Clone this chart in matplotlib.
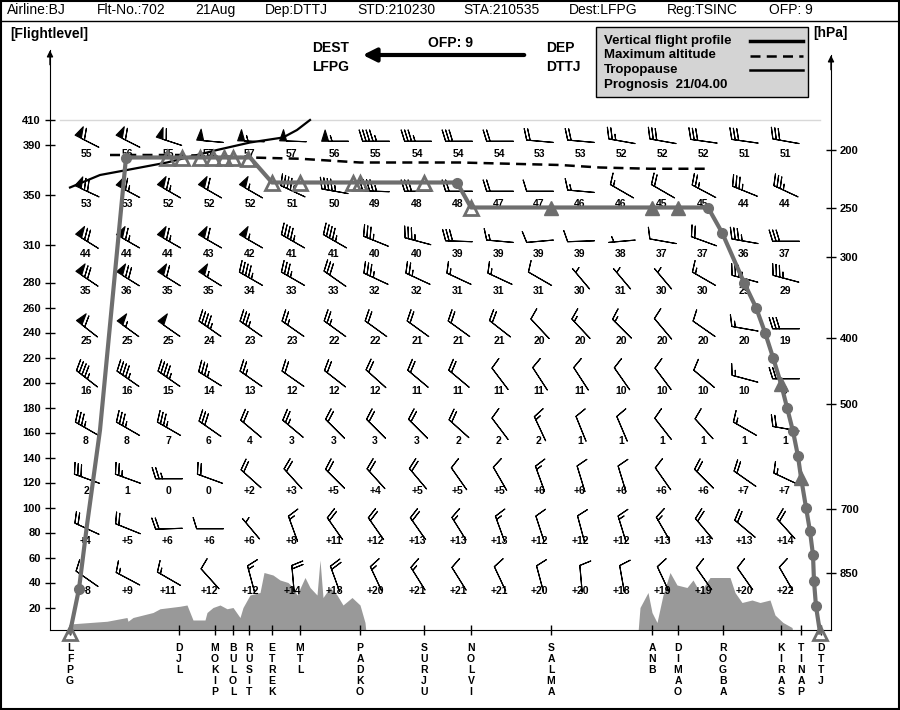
import numpy as np
import matplotlib
matplotlib.use('Agg')
import matplotlib.pyplot as plt
from matplotlib.patches import Rectangle
from matplotlib.lines import Line2D

plt.rcParams['font.family'] = ['Liberation Sans', 'DejaVu Sans']

# ---------------- data ----------------
header = ['Airline:BJ', 'Flt-No.:702', '21Aug', 'Dep:DTTJ', 'STD:210230',
          'STA:210535', 'Dest:LFPG', 'Reg:TSINC', 'OFP: 9']

waypoints = ['LFPG', 'DJL', 'MOKIP', 'BULOL', 'RUSIT', 'ETREK', 'MTL', 'PADKO', 'SURJU',
             'NOLVI', 'SALMA', 'ANB', 'DIMAO', 'ROGBA', 'KIRAS', 'TINAP', 'DTTJ']
wp_dist = [0, 109, 145, 163, 179, 202, 230, 290, 354, 401, 481, 582, 608, 653, 711, 731, 751]

# vertical flight profile (distance from LFPG, flight level)
prof_dist = [0, 9, 17, 30, 56, 180, 202, 387, 401, 638, 652, 674, 686, 695, 703,
             711, 717, 723, 728, 731, 736, 740, 743, 744, 746, 750]
prof_fl = [0, 35, 86, 162, 380, 380, 360, 360, 340, 340, 320, 280, 260, 240, 220,
           199, 180, 161, 141, 124, 100, 81, 62, 41, 21, 0]
circ_dist = [9, 56, 387, 638, 652, 674, 686, 695, 703, 717, 723, 728, 736, 740, 743, 744, 746]
circ_fl = [35, 380, 360, 340, 320, 280, 260, 240, 220, 180, 161, 141, 100, 81, 62, 41, 21]
tri_open_dist = [0, 750, 97, 112, 130, 143, 154, 163, 178, 202, 230, 283, 290, 354, 401]
tri_open_fl = [0, 0, 380, 380, 380, 380, 380, 380, 379, 360, 360, 360, 360, 360, 340]
tri_full_dist = [481, 582, 608, 711, 731]
tri_full_fl = [340, 340, 340, 199, 124]

maxalt_dist = [40, 110, 180, 230, 290, 390, 490, 530, 580, 638]
maxalt_fl = [382, 382, 380, 379, 376, 376, 374, 372, 371, 371]

tropo_dist = [0, 30, 57, 97, 147, 180, 213, 227, 240]
tropo_fl = [356, 366, 370, 376, 386, 392, 396, 402, 410]

terr1_dist = [0, 3, 37, 57, 58, 63, 83, 90, 110, 117, 123, 135, 137, 143, 150, 157, 163,
              170, 173, 180, 190, 194, 203, 210, 218, 223, 227, 235, 240, 247, 250, 253,
              260, 267, 273, 282, 290, 295, 296]
terr1_fl = [0, 7, 9, 12, 9, 12, 16, 19, 21, 22, 10, 10, 16, 20, 22, 19, 20,
            12, 20, 30, 32, 48, 46, 42, 40, 36, 30, 44, 36, 30, 58, 28,
            36, 30, 22, 28, 22, 8, 0]
terr2_dist = [568, 570, 578, 582, 587, 593, 600, 607, 617, 623, 630, 640, 653, 660, 665,
              672, 682, 690, 700, 705, 713, 722, 723]
terr2_fl = [0, 20, 32, 16, 8, 30, 48, 38, 36, 42, 32, 44, 44, 44, 32,
            24, 26, 24, 26, 14, 8, 4, 0]

# wind / temperature grid
grid_dist = [16, 57, 98, 139, 180, 222, 264, 305, 347, 388, 429, 469, 510, 551, 592, 633, 674, 715]
grid_fl = [390, 350, 310, 280, 240, 200, 160, 120, 80, 40]

temp = [
    [-55, -56, -55, -57, -57, -57, -56, -55, -54, -54, -54, -53, -53, -52, -52, -52, -51, -51],
    [-53, -53, -52, -52, -52, -51, -50, -49, -48, -48, -47, -47, -46, -46, -45, -45, -44, -44],
    [-44, -44, -44, -43, -42, -41, -41, -40, -40, -39, -39, -39, -39, -38, -37, -37, -36, -37],
    [-35, -36, -35, -35, -34, -33, -33, -32, -32, -31, -31, -31, -30, -31, -30, -30, -29, -29],
    [-25, -25, -25, -24, -23, -23, -22, -22, -21, -21, -21, -20, -20, -20, -20, -20, -20, -19],
    [-16, -16, -15, -14, -13, -12, -12, -12, -11, -11, -11, -11, -11, -10, -10, -10, -10, -9],
    [-8, -8, -7, -6, -4, -3, -3, -3, -3, -2, -2, -2, -1, -1, -1, -1, -1, -1],
    [-2, -1, 0, 0, 2, 3, 5, 4, 5, 5, 5, 6, 6, 6, 6, 6, 7, 7],
    [4, 5, 6, 6, 6, 8, 11, 12, 13, 13, 13, 12, 12, 12, 13, 13, 13, 14],
    [8, 9, 11, 12, 12, 14, 18, 20, 21, 21, 21, 20, 20, 18, 19, 19, 20, 22],
]
wspd = [
    [60, 60, 60, 50, 55, 50, 55, 45, 35, 30, 20, 20, 20, 25, 30, 30, 30, 30],
    [70, 65, 65, 60, 55, 45, 45, 45, 30, 20, 20, 10, 15, 15, 20, 25, 35, 35],
    [70, 65, 65, 60, 55, 45, 45, 35, 35, 30, 15, 10, 10, 5, 10, 20, 35, 30],
    [70, 70, 60, 55, 45, 35, 30, 35, 25, 15, 15, 10, 5, 5, 5, 15, 35, 35],
    [60, 55, 50, 45, 35, 25, 25, 20, 20, 20, 20, 10, 15, 15, 10, 10, 15, 30],
    [45, 45, 45, 35, 25, 20, 20, 20, 20, 20, 10, 10, 10, 10, 10, 10, 15, 30],
    [35, 35, 35, 30, 20, 25, 20, 20, 20, 20, 10, 15, 10, 10, 10, 10, 15, 20],
    [30, 25, 25, 20, 20, 20, 20, 20, 20, 10, 10, 15, 10, 10, 10, 20, 20, 15],
    [20, 20, 20, 10, 5, 15, 20, 20, 20, 15, 15, 10, 10, 15, 15, 20, 20, 20],
    [10, 15, 15, 10, 15, 20, 20, 15, 15, 10, 10, 10, 10, 10, 10, 10, 10, 10],
]
wdir = [
    [297, 297, 288, 275, 272, 272, 270, 270, 270, 270, 270, 275, 275, 280, 280, 278, 278, 280],
    [295, 298, 300, 300, 300, 295, 280, 272, 270, 270, 270, 270, 275, 300, 300, 298, 292, 295],
    [302, 300, 300, 300, 300, 300, 300, 292, 285, 272, 275, 265, 268, 265, 280, 290, 280, 270],
    [304, 302, 302, 302, 300, 300, 305, 295, 295, 295, 295, 300, 320, 320, 320, 300, 285, 285],
    [308, 306, 305, 305, 305, 305, 306, 306, 306, 306, 308, 317, 317, 315, 320, 305, 280, 270],
    [308, 305, 305, 302, 305, 305, 308, 312, 310, 310, 323, 327, 327, 325, 323, 310, 285, 270],
    [300, 300, 300, 305, 310, 310, 315, 315, 315, 312, 323, 335, 338, 337, 322, 318, 300, 280],
    [290, 290, 270, 290, 312, 318, 315, 318, 320, 325, 330, 340, 343, 343, 325, 315, 305, 295],
    [295, 292, 268, 270, 320, 340, 325, 325, 325, 328, 340, 342, 345, 343, 330, 320, 310, 318],
    [305, 298, 300, 318, 345, 355, 340, 335, 328, 328, 335, 345, 355, 350, 335, 325, 325, 330],
]

fl_ticks = [20, 40, 60, 80, 100, 120, 140, 160, 180, 200, 220, 240, 260, 280, 310, 350, 390, 410]
hpa_ticks = [200, 250, 300, 400, 500, 700, 850]

# ---------------- figure ----------------
W, H = 900, 710


def fx(px):
    return px / W


def fy(py):
    return 1 - py / H


fig = plt.figure(figsize=(W / 100, H / 100), dpi=100)
ax = fig.add_axes([fx(50), fy(630), fx(831) - fx(50), fy(50) - fy(630)])
ax.set_xlim(-20, 761)
ax.set_ylim(2, 466)

prof_col = '#6e6e6e'

# terrain
ax.fill_between(terr1_dist, 0, terr1_fl, color='#999999', lw=0, zorder=1)
ax.fill_between(terr2_dist, 0, terr2_fl, color='#999999', lw=0, zorder=1)

ax.plot([-10, 750], [410, 410], color='#d8d8d8', lw=1, zorder=1)

# wind barbs
gx, gy = np.meshgrid(grid_dist, grid_fl)
spd = np.array(wspd, dtype=float)
rad = np.radians(np.array(wdir, dtype=float))
u = -spd * np.sin(rad)
v = -spd * np.cos(rad)
ax.barbs(gx + 1, gy + 3, u, v, length=6.2, pivot='middle', linewidth=0.8,
         barbcolor='k', flagcolor='k',
         sizes=dict(spacing=0.13, height=0.42, width=0.26), zorder=3)

# temperatures
for i, fl in enumerate(grid_fl):
    for j, d in enumerate(grid_dist):
        t = temp[i][j]
        txt = '+%d' % t if t > 0 else '%d' % abs(t)
        ax.text(d, fl - 7, txt, ha='center', va='center', fontsize=7.5,
                fontweight='bold', zorder=3)

# tropopause, maximum altitude, flight profile
ax.plot(tropo_dist, tropo_fl, color='k', lw=1.6, zorder=4)
ax.plot(maxalt_dist, maxalt_fl, color='k', lw=1.8, ls=(0, (4, 2.5)), zorder=4)
ax.plot(prof_dist, prof_fl, color=prof_col, lw=3, zorder=5, clip_on=False)
ax.plot(circ_dist, circ_fl, 'o', ms=7, color=prof_col, zorder=6)
ax.plot(tri_open_dist, tri_open_fl, '^', ms=10, mfc='none', mec=prof_col, mew=2,
        zorder=6, clip_on=False)
ax.plot(tri_full_dist, tri_full_fl, '^', ms=10, color=prof_col, zorder=6)

# axes
ax.spines['top'].set_visible(False)
ax.spines['right'].set_visible(False)
ax.set_yticks(fl_ticks)
ax.set_yticklabels([str(f) for f in fl_ticks], fontsize=8, fontweight='bold')
ax.tick_params(axis='y', direction='inout', length=7, width=1, pad=3)
ax.set_xticks(wp_dist)
ax.set_xticklabels([])
ax.tick_params(axis='x', direction='inout', length=7, width=1)

for name, d in zip(waypoints, wp_dist):
    for k, ch in enumerate(name):
        ax.annotate(ch, xy=(d, 0), xycoords=('data', 'axes fraction'),
                    xytext=(0, -13 - 7.9 * k), textcoords='offset points',
                    ha='center', va='center', fontsize=7.5, fontweight='bold',
                    annotation_clip=False)

ax2 = ax.twinx()
ax2.set_ylim(ax.get_ylim())
hpa_fl = [(1 - (p / 1013.25) ** 0.190263) * 1453.6645 for p in hpa_ticks]
ax2.set_yticks(hpa_fl)
ax2.set_yticklabels([str(p) for p in hpa_ticks], fontsize=8, fontweight='bold')
ax2.tick_params(axis='y', direction='inout', length=7, width=1, pad=3)
for s in ['top', 'left', 'bottom']:
    ax2.spines[s].set_visible(False)
ax2.spines['right'].set_bounds(2, 462)

ax.annotate('', xy=(-20, 468), xytext=(-20, 452),
            arrowprops=dict(arrowstyle='-|>', color='k', lw=1, mutation_scale=9),
            annotation_clip=False)
ax.annotate('', xy=(761, 464), xytext=(761, 448),
            arrowprops=dict(arrowstyle='-|>', color='k', lw=1, mutation_scale=9),
            annotation_clip=False)

# header and frame
header_x = [7, 97, 195, 265, 357, 463, 569, 667, 769]
for txt, px in zip(header, header_x):
    fig.text(fx(px), fy(10), txt, ha='left', va='center', fontsize=10)
fig.add_artist(Line2D([0, 1], [fy(21), fy(21)], transform=fig.transFigure, color='k', lw=1))
fig.add_artist(Rectangle((0.001, 0.001), 0.998, 0.998, transform=fig.transFigure,
                         fill=False, ec='k', lw=1.5))

fig.text(fx(10), fy(34), '[Flightlevel]', ha='left', va='center', fontsize=10, fontweight='bold')
fig.text(fx(813), fy(33), '[hPa]', ha='left', va='center', fontsize=10, fontweight='bold')

fig.text(fx(312), fy(48), 'DEST', ha='left', va='center', fontsize=10, fontweight='bold')
fig.text(fx(312), fy(67), 'LFPG', ha='left', va='center', fontsize=10, fontweight='bold')
fig.text(fx(546), fy(48), 'DEP', ha='left', va='center', fontsize=10, fontweight='bold')
fig.text(fx(546), fy(67), 'DTTJ', ha='left', va='center', fontsize=10, fontweight='bold')
fig.text(fx(450), fy(43), 'OFP: 9', ha='center', va='center', fontsize=10, fontweight='bold')
ax.annotate('', xy=(fx(360), fy(55)), xytext=(fx(527), fy(55)), xycoords='figure fraction',
            arrowprops=dict(arrowstyle='-|>', lw=3, color='k', mutation_scale=20),
            annotation_clip=False)

# legend box
fig.add_artist(Rectangle((fx(596), fy(97)), fx(808) - fx(596), fy(27) - fy(97),
                         transform=fig.transFigure, fc='#d4d4d4', ec='k', lw=1))
leg_text = ['Vertical flight profile', 'Maximum altitude', 'Tropopause', 'Prognosis  21/04.00']
leg_y = [41, 55, 70, 85]
for txt, py in zip(leg_text, leg_y):
    fig.text(fx(604), fy(py), txt, ha='left', va='center', fontsize=9.5, fontweight='bold')
fig.add_artist(Line2D([fx(750), fx(803)], [fy(41), fy(41)], transform=fig.transFigure,
                      color='k', lw=2.5))
fig.add_artist(Line2D([fx(750), fx(803)], [fy(56), fy(56)], transform=fig.transFigure,
                      color='k', lw=1.8, ls=(0, (4, 2.5))))
fig.add_artist(Line2D([fx(750), fx(803)], [fy(70), fy(70)], transform=fig.transFigure,
                      color='k', lw=1.8))

fig.savefig('out.png', dpi=100)
